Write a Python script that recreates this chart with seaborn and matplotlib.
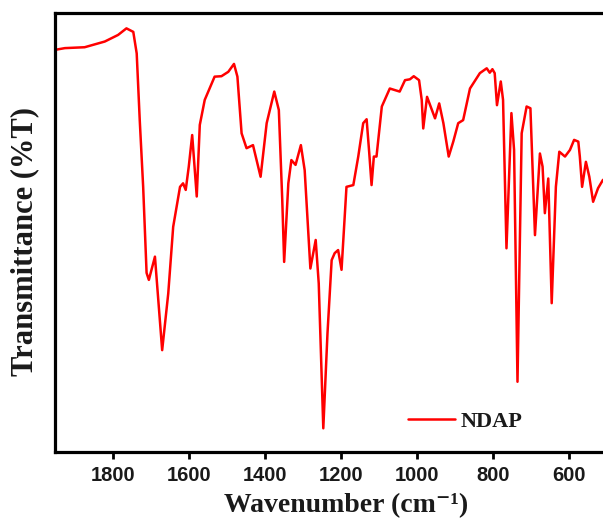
import matplotlib
matplotlib.use('Agg')
import matplotlib.pyplot as plt
import seaborn as sns

sns.set_theme(style='white')

# FTIR spectrum of NDAP
wavenumber = [1953, 1927, 1875, 1822, 1787, 1765, 1747, 1738, 1730, 1721,
              1712, 1706, 1690, 1671, 1655, 1642, 1624, 1616, 1609, 1601,
              1592, 1580, 1572, 1559, 1533, 1515, 1497, 1482, 1473, 1462,
              1449, 1432, 1412, 1396, 1376, 1364, 1355, 1350, 1339, 1331,
              1320, 1306, 1296, 1281, 1267, 1259, 1247, 1236, 1225, 1217,
              1208, 1199, 1186, 1168, 1155, 1142, 1133, 1126, 1120, 1114,
              1107, 1093, 1072, 1046, 1032, 1019, 1009, 995, 988, 984,
              974, 953, 942, 931, 917, 905, 892, 879, 861, 835,
              817, 809, 802, 796, 790, 780, 774, 765, 752, 745,
              736, 725, 712, 702, 690, 677, 670, 664, 655, 646,
              635, 626, 611, 598, 587, 576, 572, 566, 556, 547,
              537, 524, 511]
transmittance = [91.6, 92.0, 92.2, 93.5, 95.0, 96.5, 95.7, 90.8, 75.6, 60.4,
                 40.8, 39.2, 44.5, 23.2, 36.1, 51.3, 60.4, 61.2, 59.7, 65.0,
                 72.2, 58.2, 74.5, 80.2, 85.5, 85.6, 86.6, 88.4, 85.5, 72.6,
                 69.2, 69.9, 62.7, 74.9, 82.1, 77.9, 57.4, 43.3, 61.2, 66.5,
                 65.4, 69.9, 64.2, 41.8, 48.3, 38.4, 5.4, 27.0, 43.7, 45.3,
                 46.0, 41.5, 60.4, 60.8, 67.3, 74.9, 75.8, 68.0, 60.8, 67.3,
                 67.3, 78.7, 82.8, 82.1, 84.7, 84.9, 85.6, 84.7, 80.2, 73.7,
                 80.9, 76.0, 79.4, 74.9, 67.3, 70.7, 74.9, 75.6, 82.8, 86.3,
                 87.4, 86.4, 87.2, 86.3, 79.0, 84.4, 80.2, 46.4, 77.2, 68.8,
                 16.0, 72.6, 78.7, 78.3, 49.4, 68.0, 65.0, 54.4, 62.3, 33.9,
                 60.4, 68.4, 67.3, 68.8, 71.1, 70.7, 67.3, 60.4, 66.1, 62.7,
                 57.0, 60.1, 62.0]
x_ticks = [1800, 1600, 1400, 1200, 1000, 800, 600]
sample = 'NDAP'

serif = ['Liberation Serif', 'DejaVu Serif']

fig = plt.figure(figsize=(6.03, 5.24), dpi=100)
ax = fig.add_axes([0.0912, 0.1374, 0.9088, 0.8378])

sns.lineplot(x=wavenumber, y=transmittance, estimator=None, color='#ff0000',
             linewidth=1.8, label=sample, ax=ax)

ax.set_xlim(1953, 511)
ax.set_ylim(0, 100)
ax.set_xticks(x_ticks)
ax.set_yticks([])

for side in ['left', 'top', 'bottom']:
    ax.spines[side].set_visible(True)
    ax.spines[side].set_color('black')
    ax.spines[side].set_linewidth(2.3)
ax.spines['right'].set_visible(False)

ax.tick_params(axis='x', direction='out', bottom=True, length=5, width=2,
               color='black', pad=5)
for lab in ax.get_xticklabels():
    lab.set_family(['Liberation Sans', 'DejaVu Sans'])
    lab.set_fontweight('bold')
    lab.set_fontsize(14.5)
    lab.set_color('#1a1a1a')

ax.set_xlabel('Wavenumber (cm\u207b\u00b9)', family=serif,
              fontweight='bold', fontsize=20, color='#1a1a1a')
ax.set_ylabel('Transmittance (%T)', family=serif,
              fontweight='bold', fontsize=22, color='#1a1a1a')
ax.xaxis.set_label_coords(0.531, -0.093)
ax.yaxis.set_label_coords(-0.028, 0.48)

leg = ax.legend(loc='center left', bbox_to_anchor=(0.644, 0.07), frameon=False,
                borderpad=0, borderaxespad=0, handlelength=2.1, handletextpad=0.25,
                prop={'family': serif, 'weight': 'bold', 'size': 16})
for t in leg.get_texts():
    t.set_color('#1a1a1a')

fig.savefig('out.png', dpi=100, facecolor='white')
